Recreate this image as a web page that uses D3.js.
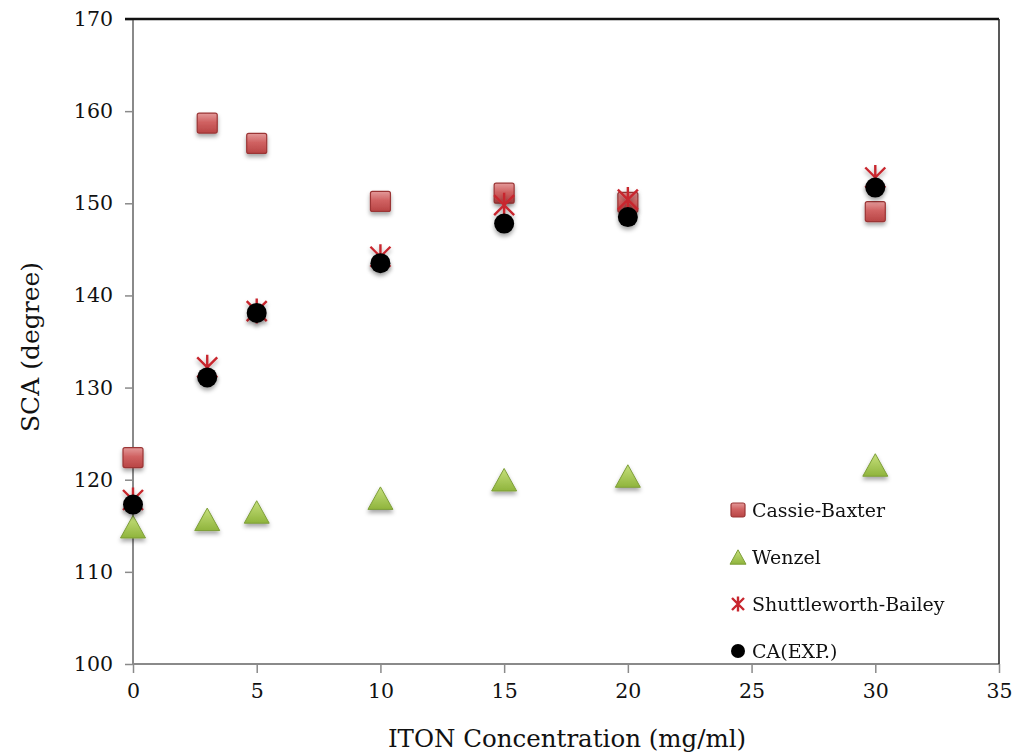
<!DOCTYPE html>
<html>
<head>
<meta charset="utf-8">
<script src="https://cdn.jsdelivr.net/npm/d3@7"></script>
<style>
  html, body { margin: 0; padding: 0; background: #fff; }
  svg { display: block; }
  text { font-family: "DejaVu Serif", "Liberation Serif", serif; fill: #111; }
</style>
</head>
<body>
<svg id="chart" width="1016" height="754"></svg>
<script>
// ITON concentration (mg/ml)
const concentration = [0, 3, 5, 10, 15, 20, 30];
// Contact angle predictions and measurement (degree)
const cassieBaxter = [122.4, 158.7, 156.5, 150.2, 151.1, 150.1, 149.1];
const wenzel = [114.9, 115.7, 116.5, 118.0, 120.0, 120.4, 121.6];
const shuttleworthBailey = [117.8, 132.2, 138.3, 144.2, 149.8, 150.4, 152.8];
const caExp = [117.3, 131.1, 138.1, 143.5, 147.8, 148.5, 151.7];

const seriesNames = ["Cassie-Baxter", "Wenzel", "Shuttleworth-Bailey", "CA(EXP.)"];
const xTicks = [0, 5, 10, 15, 20, 25, 30, 35];
const yTicks = [100, 110, 120, 130, 140, 150, 160, 170];

const svg = d3.select("#chart");
const plotLeft = 133, plotRight = 999, plotTop = 19, plotBottom = 664;

const x = d3.scaleLinear().domain([0, 35]).range([plotLeft, plotRight]);
const y = d3.scaleLinear().domain([100, 170]).range([plotBottom, plotTop]);

// gradients and shadow
const defs = svg.append("defs");
const sq = defs.append("linearGradient").attr("id", "gSquare").attr("x1", 0).attr("y1", 0).attr("x2", 0).attr("y2", 1);
sq.append("stop").attr("offset", "0%").attr("stop-color", "#e39a9a");
sq.append("stop").attr("offset", "45%").attr("stop-color", "#d06262");
sq.append("stop").attr("offset", "100%").attr("stop-color", "#b84545");
const tri = defs.append("linearGradient").attr("id", "gTri").attr("x1", 0).attr("y1", 0).attr("x2", 0).attr("y2", 1);
tri.append("stop").attr("offset", "0%").attr("stop-color", "#c6e07c");
tri.append("stop").attr("offset", "100%").attr("stop-color", "#8fb43c");
const sh = defs.append("filter").attr("id", "shadow").attr("x", "-50%").attr("y", "-50%").attr("width", "200%").attr("height", "220%");
sh.append("feDropShadow").attr("dx", 0).attr("dy", 3).attr("stdDeviation", 2)
  .attr("flood-color", "#000").attr("flood-opacity", 0.35);

// axes
const yAxis = d3.axisLeft(y).tickValues(yTicks).tickSize(8).tickPadding(12).tickFormat(d3.format("d"));
const xAxis = d3.axisBottom(x).tickValues(xTicks).tickSize(9).tickPadding(10).tickFormat(d3.format("d"));

const gy = svg.append("g").attr("transform", `translate(${plotLeft},0)`).call(yAxis);
const gx = svg.append("g").attr("transform", `translate(0,${plotBottom})`).call(xAxis);
[gx, gy].forEach(g => {
  g.select(".domain").attr("stroke", "#8a8a8a").attr("stroke-width", 2);
  g.selectAll(".tick line").attr("stroke", "#8a8a8a").attr("stroke-width", 1.5);
  g.selectAll(".tick text").attr("font-size", 20.5).attr("font-family", "DejaVu Serif").attr("fill", "#111");
});
gy.select(".domain").attr("d", `M0,${plotBottom}V${plotTop}`);
gx.select(".domain").attr("d", `M${plotLeft},0H${plotRight}`);

// top and right frame
svg.append("line").attr("x1", plotLeft - 8).attr("x2", plotRight).attr("y1", plotTop).attr("y2", plotTop)
  .attr("stroke", "#111").attr("stroke-width", 2.5);
svg.append("line").attr("x1", plotRight).attr("x2", plotRight).attr("y1", plotTop).attr("y2", plotBottom)
  .attr("stroke", "#222").attr("stroke-width", 1.5);

// axis titles
svg.append("text").attr("x", 567).attr("y", 747).attr("text-anchor", "middle")
  .attr("font-size", 24.5).text("ITON Concentration (mg/ml)");
svg.append("text").attr("transform", `translate(39,347) rotate(-90)`)
  .attr("text-anchor", "middle").attr("font-size", 25).text("SCA (degree)");

// marker painters
function square(g, s) {
  g.append("rect").attr("x", -s / 2).attr("y", -s / 2).attr("width", s).attr("height", s).attr("rx", 2)
    .attr("fill", "url(#gSquare)").attr("stroke", "#9b3535").attr("stroke-width", 1.2);
}
function triangle(g, s) {
  const h = s * 0.9;
  g.append("path").attr("d", `M0,${-h / 2}L${s / 2},${h / 2}L${-s / 2},${h / 2}Z`)
    .attr("fill", "url(#gTri)").attr("stroke", "#7d9e38").attr("stroke-width", 1).attr("stroke-linejoin", "round");
}
function asterisk(g, s) {
  const r = s / 2;
  const d = r * 0.8;
  g.append("path").attr("d", `M${-d},${-d}L${d},${d}M${d},${-d}L${-d},${d}M0,${-r}L0,${r}`)
    .attr("stroke", "#c8262e").attr("stroke-width", 2.4).attr("fill", "none");
}
function dot(g, s) {
  g.append("circle").attr("r", s / 2).attr("fill", "#000");
}

const series = [
  { values: cassieBaxter, draw: square, size: 20, legend: 14 },
  { values: wenzel, draw: triangle, size: 25, legend: 16 },
  { values: shuttleworthBailey, draw: asterisk, size: 25, legend: 15 },
  { values: caExp, draw: dot, size: 20, legend: 14 }
];

series.forEach(s => {
  const g = svg.append("g").attr("filter", "url(#shadow)");
  g.selectAll("g").data(concentration.map((c, i) => [c, s.values[i]])).join("g")
    .attr("transform", d => `translate(${x(d[0])},${y(d[1])})`)
    .each(function () { s.draw(d3.select(this), s.size); });
});

// legend
const legendX = 738;
const legendY = d3.scaleLinear().domain([0, 3]).range([510, 651]);
series.forEach((s, i) => {
  const g = svg.append("g").attr("transform", `translate(${legendX},${legendY(i)})`);
  s.draw(g, s.legend);
  g.append("text").attr("x", 14).attr("y", 7).attr("font-size", 19).text(seriesNames[i]);
});
</script>
</body>
</html>
